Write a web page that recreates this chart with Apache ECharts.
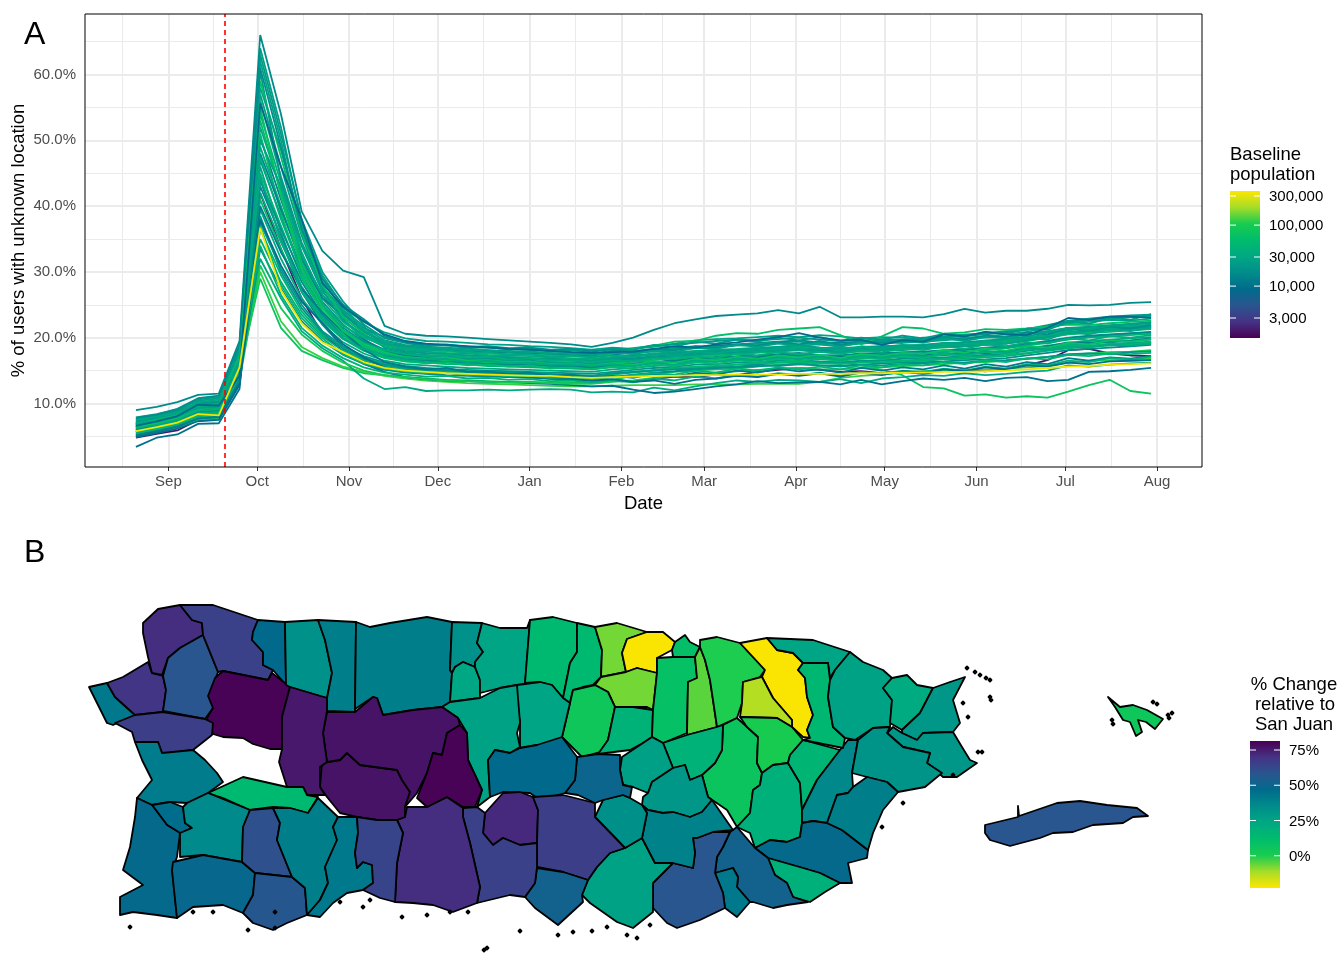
<!DOCTYPE html>
<html><head><meta charset="utf-8">
<style>html,body{margin:0;padding:0;background:#fff}#c{width:1339px;height:954px}</style>
<script src="https://cdn.jsdelivr.net/npm/echarts@6/dist/echarts.min.js"></script>
</head><body><div id="c"></div>
<script>
const weekDays=[-11,-4,3,10,17,24,31,38,45,52,59,66,73,80,87,94,101,108,115,122,129,136,143,150,157,164,171,178,185,192,199,206,213,220,227,234,241,248,255,262,269,276,283,290,297,304,311,318,325,332];
const monthDays=[0,30,61,91,122,153,181,212,242,273,303,334];
const monthLabels=['Sep','Oct','Nov','Dec','Jan','Feb','Mar','Apr','May','Jun','Jul','Aug'];
const minorDays=[-15.5,15,45.5,76,106.5,137.5,167,196.5,227,257.5,288,318.5];
const yMajor=[10,20,30,40,50,60];
const yMinor=[5,15,25,35,45,55,65];
const stormDay=19;
const palette=['#ffe600','#a5dd28','#18cc50','#00bc6c','#00a884','#008d8b','#006b8c','#2a558e','#453385','#480054'];
const popTicks=[300000,100000,30000,10000,3000];
const popLabels=['300,000','100,000','30,000','10,000','3,000'];
const changeTicks=[75,50,25,0];

const L01=[9.0,9.5,10.2,11.3,11.5,19.5,66.0,54.0,39.2,33.2,30.2,29.2,21.8,20.6,20.3,20.2,20.0,19.8,19.6,19.4,19.2,19.0,18.6,19.2,20.0,21.2,22.2,22.8,23.3,23.5,23.7,24.2,23.7,24.7,23.1,23.1,23.2,23.2,23.1,23.6,24.4,23.8,24.1,24.1,24.4,25.0,24.9,25.0,25.3,25.4];
const L02=[6.0,6.6,7.2,8.1,8.4,15.0,29.0,21.5,18.0,16.6,15.4,14.6,14.3,14.0,13.8,13.6,13.5,13.4,13.3,13.3,13.2,13.2,13.1,13.6,14.2,14.5,14.8,15.0,15.2,15.3,15.6,15.9,16.1,16.2,16.2,15.8,15.1,14.3,12.5,12.3,11.2,11.4,10.9,11.1,10.9,11.8,12.8,13.6,11.9,11.5];
const L03=[5.5,6.0,6.8,7.6,8.0,14.5,32.0,26.0,21.0,18.4,16.5,13.8,12.2,12.5,11.9,12.0,12.0,12.1,12.0,12.1,12.2,12.1,11.7,11.8,11.7,12.4,12.0,12.6,13.1,13.5,13.3,13.6,13.5,13.3,13.7,13.1,13.8,14.0,14.3,14.2,14.6,14.3,14.5,14.8,15.0,15.8,15.6,15.9,16.1,16.2];
const L04=[3.4,4.8,5.3,6.9,7.0,12.2,44.0,35.0,27.0,22.0,18.6,16.0,14.8,14.0,13.7,13.5,13.4,13.3,13.2,13.1,13.0,12.8,12.6,12.7,12.1,11.6,11.8,12.2,12.6,12.9,13.4,13.1,13.2,13.3,12.9,13.6,12.9,13.4,13.8,13.6,13.9,13.4,13.9,14.0,13.4,13.6,14.8,14.9,15.1,15.4];
const L05=[5.8,6.4,7.1,8.4,8.2,15.5,36.7,27.2,22.2,19.3,17.8,16.3,15.4,15.0,14.8,14.6,14.5,14.4,14.3,14.2,14.2,14.0,13.9,14.0,14.1,14.2,14.2,14.3,14.3,14.4,14.4,14.4,14.5,14.5,14.5,14.6,14.6,14.7,14.7,14.8,14.8,14.9,15.0,15.2,15.4,15.6,15.7,15.9,16.0,16.1];
const L06=[4.8,5.4,5.9,7.5,7.7,13.0,42.0,33.5,26.0,20.5,18.0,16.5,15.8,15.2,15.0,14.7,14.4,14.3,14.1,14.0,13.8,13.7,13.5,13.6,13.4,13.7,14.1,14.0,14.4,14.3,14.8,15.1,15.4,15.1,14.8,14.9,14.6,14.8,14.5,15.0,15.2,14.9,15.3,15.8,16.6,18.1,18.3,17.6,17.3,17.2];
const L07=[6.6,7.3,8.1,9.8,9.7,14.2,55.6,46.0,38.0,28.3,24.7,22.5,20.5,19.5,19.1,18.9,18.7,18.5,18.3,18.2,18.0,17.8,17.7,17.8,17.9,18.3,18.7,18.5,19.0,19.3,19.7,20.1,20.7,20.0,19.6,19.7,18.9,19.6,19.4,20.5,20.2,20.9,20.5,20.4,21.5,23.0,22.7,23.2,23.2,23.0];
const L08=[6.8,7.4,8.2,9.3,9.6,16.5,59.0,47.5,36.0,28.0,23.2,20.6,18.9,18.4,18.1,17.9,17.8,17.6,17.5,17.4,17.3,17.2,17.0,17.6,18.3,18.8,19.4,19.5,20.3,20.7,20.6,21.2,21.4,21.6,20.4,19.0,20.2,21.6,21.4,20.6,20.8,21.3,21.2,21.4,21.7,22.0,21.9,22.2,22.4,22.6];
const L09=[7.9,8.4,9.1,10.4,10.8,17.8,62.0,50.0,36.0,28.5,24.5,22.4,20.8,19.9,19.5,19.4,19.2,19.0,18.9,18.7,18.6,18.4,18.2,18.5,18.3,18.6,19.1,19.6,19.8,19.9,20.1,20.3,20.1,20.4,20.2,19.9,20.1,20.0,19.8,20.2,20.5,20.6,21.0,21.2,21.7,22.3,22.6,22.8,23.1,23.3];
const L10=[7.4,7.9,8.8,10.1,10.2,17.1,60.5,44.0,34.0,27.0,23.5,21.5,20.1,19.4,19.0,18.8,18.6,18.5,18.3,18.1,18.0,17.8,17.6,18.0,18.4,18.8,19.0,19.2,19.5,19.7,19.6,19.8,20.0,19.7,19.5,19.6,19.8,19.7,20.0,20.1,20.3,20.7,20.9,21.3,21.9,22.6,22.9,23.2,23.4,23.5];
const L11=[7.1,7.7,8.6,9.9,10.3,16.8,52.0,42.5,32.5,26.5,23.0,20.8,19.5,18.8,18.5,18.3,18.1,18.0,17.8,17.7,17.6,17.4,17.2,17.5,17.7,17.9,18.1,18.4,18.6,18.8,18.9,19.2,19.4,19.0,18.8,19.1,19.3,19.2,19.4,19.6,19.9,20.0,20.2,20.6,21.0,21.5,21.7,21.9,22.1,22.3];
const L12=[6.9,7.5,8.4,9.6,9.9,16.2,49.0,40.0,31.0,25.0,21.8,20.0,18.8,18.2,17.9,17.7,17.6,17.4,17.3,17.2,17.0,16.9,16.8,17.1,17.3,17.6,17.8,18.0,18.2,18.3,18.5,18.6,18.7,18.5,18.4,18.6,18.7,18.6,18.9,19.1,19.2,19.4,19.7,20.0,20.5,21.1,21.4,21.6,21.8,22.0];
const L13=[6.5,7.2,8.0,9.2,9.4,15.7,47.0,38.5,30.5,25.5,22.0,19.6,18.2,17.6,17.4,17.2,17.0,16.9,16.8,16.7,16.6,16.5,16.4,16.7,16.9,17.2,17.5,17.7,17.9,18.0,18.2,18.4,18.5,18.2,18.1,18.3,18.5,18.6,18.7,18.9,19.0,19.2,19.5,19.9,20.4,20.9,21.2,21.3,21.6,21.7];
const L14=[6.3,6.9,7.8,9.0,9.1,15.4,45.0,37.0,29.0,24.0,20.8,18.9,17.7,17.2,16.9,16.8,16.6,16.5,16.4,16.3,16.2,16.1,16.0,16.3,16.5,16.8,17.0,17.3,17.5,17.6,17.8,18.0,18.1,17.9,17.8,18.0,18.2,18.2,18.4,18.5,18.7,18.9,19.1,19.5,20.0,20.5,20.7,20.9,21.1,21.3];
const L15=[7.6,8.1,8.9,10.0,10.4,17.5,57.0,46.0,35.5,27.5,23.8,21.0,19.0,18.0,17.7,17.5,17.3,17.2,17.0,16.9,16.8,16.6,16.5,16.8,17.2,17.5,17.7,17.8,18.0,18.2,18.3,18.6,18.9,18.5,18.3,18.4,18.7,18.8,18.9,19.2,19.3,19.6,19.8,20.2,20.8,21.2,21.6,21.8,22.1,22.4];
const L16=[6.1,6.8,7.6,8.8,9.0,15.1,43.0,35.5,28.5,23.5,20.5,18.5,17.3,16.9,16.6,16.4,16.3,16.1,16.0,15.9,15.8,15.7,15.5,15.9,16.1,16.3,16.6,16.9,17.0,17.2,17.3,17.5,17.7,17.4,17.3,17.6,17.7,17.8,17.9,18.1,18.2,18.5,18.7,19.1,19.5,20.0,20.3,20.5,20.7,20.9];
const L17=[6.2,6.7,7.5,8.6,8.9,15.8,41.0,33.5,27.0,22.5,19.8,18.0,16.9,16.4,16.2,16.0,15.9,15.7,15.6,15.5,15.4,15.3,15.2,15.5,15.8,16.1,16.3,16.5,16.7,16.9,17.0,17.2,17.3,17.1,17.0,17.2,17.4,17.5,17.6,17.8,17.9,18.1,18.4,18.8,19.2,19.7,20.0,20.2,20.4,20.6];
const L18=[5.9,6.5,7.4,8.5,8.7,15.2,39.5,32.0,26.0,22.0,19.3,17.6,16.5,16.0,15.8,15.6,15.4,15.3,15.2,15.1,15.0,14.9,14.8,15.2,15.4,15.7,15.9,16.2,16.4,16.5,16.7,16.8,16.9,16.7,16.6,16.8,17.0,17.1,17.2,17.3,17.6,17.8,18.0,18.4,18.8,19.2,19.5,19.7,19.9,20.1];
const L19=[5.6,6.2,7.2,8.3,8.5,14.8,37.5,30.5,25.0,21.0,18.7,17.2,16.2,15.7,15.4,15.2,15.1,15.0,14.9,14.8,14.7,14.6,14.5,14.8,15.1,15.4,15.6,15.9,16.0,16.2,16.3,16.5,16.6,16.4,16.3,16.5,16.6,16.8,16.9,17.0,17.2,17.4,17.6,18.0,18.4,18.9,19.1,19.3,19.5,19.7];
const L20=[5.3,5.9,6.9,8.0,8.2,14.3,35.0,28.5,23.5,20.2,18.0,16.6,15.7,15.2,15.0,14.8,14.7,14.6,14.4,14.3,14.2,14.1,14.0,14.4,14.7,15.0,15.3,15.5,15.7,15.9,16.0,16.2,16.3,16.1,16.0,16.2,16.3,16.4,16.5,16.7,16.8,17.0,17.2,17.6,18.0,18.4,18.6,18.8,19.0,19.2];
const L21=[5.1,5.7,6.6,7.8,7.9,13.8,33.5,27.5,22.5,19.5,17.4,16.0,15.1,14.7,14.5,14.3,14.2,14.1,14.0,13.9,13.8,13.7,13.6,14.0,14.4,14.7,14.9,15.2,15.4,15.5,15.7,15.8,16.0,15.8,15.7,15.9,16.1,16.2,16.3,16.4,16.6,16.7,16.9,17.3,17.7,18.1,18.3,18.5,18.7,18.9];
const L22=[5.0,5.6,6.4,7.5,7.7,13.5,31.0,24.5,20.5,18.0,16.2,15.0,14.3,14.0,13.7,13.5,13.4,13.3,13.2,13.2,13.1,13.0,13.0,13.3,13.5,13.9,14.2,14.5,14.7,14.9,15.1,15.3,15.4,15.2,15.2,15.4,15.5,15.7,15.8,16.0,16.2,16.3,16.5,16.8,17.1,17.4,17.6,17.8,17.9,18.1];
const L23=[5.9,6.4,7.0,8.0,8.2,15.0,30.0,22.5,18.6,16.9,15.6,14.8,14.2,13.8,13.5,13.3,13.1,13.0,12.9,12.8,12.7,12.6,12.6,12.7,12.8,12.8,12.8,12.9,12.9,12.9,13.0,13.0,13.0,13.3,13.9,14.2,14.4,14.7,14.9,15.0,15.1,15.2,15.3,15.5,15.7,16.2,16.5,16.6,16.7,16.8];
const L24=[7.2,7.8,8.5,9.7,10.0,18.5,64.0,52.0,37.5,29.0,24.0,21.5,19.6,18.9,18.6,18.5,18.3,18.1,18.0,17.9,17.7,17.6,17.5,17.9,18.1,18.0,18.4,18.7,18.5,18.9,19.1,19.3,19.0,19.2,19.0,19.3,19.5,19.3,19.6,19.8,20.0,20.2,20.5,20.9,21.5,22.2,22.4,22.7,22.6,22.9];
const L25=[6.7,7.3,8.0,9.4,9.5,16.0,54.0,43.5,33.0,26.0,22.4,20.2,18.6,17.9,17.6,17.5,17.3,17.1,17.1,16.9,16.8,16.7,16.6,17.0,17.4,17.3,17.7,17.9,18.1,18.0,18.3,18.2,18.5,18.3,18.5,18.2,18.6,18.9,18.8,19.0,19.3,19.2,19.5,20.1,20.3,20.8,21.0,21.4,21.5,21.8];
const L26=[6.4,7.0,7.7,9.1,9.3,14.9,50.5,41.0,32.0,26.5,22.8,19.8,17.9,17.3,17.0,16.7,16.7,16.4,16.2,16.1,16.1,15.9,15.8,16.0,16.4,16.2,16.5,16.7,17.1,16.9,17.0,17.4,17.2,17.0,17.1,17.0,17.3,17.2,17.5,17.4,17.8,17.6,18.0,18.3,18.7,19.3,19.2,19.5,19.6,19.9];
const L27=[6.0,6.6,7.3,8.7,8.8,15.5,46.0,36.0,27.5,23.0,20.0,18.2,17.1,16.6,16.3,16.2,16.0,15.8,15.8,15.6,15.5,15.4,15.3,15.7,15.9,16.4,16.2,16.6,16.6,16.8,16.9,17.1,17.1,16.8,16.9,17.0,17.2,17.0,17.3,17.5,17.4,17.7,17.9,18.1,18.6,18.9,18.8,19.0,19.2,19.3];
const L28=[5.7,6.3,7.0,8.2,8.4,14.6,38.5,30.0,24.5,20.8,18.3,16.8,15.9,15.4,15.1,15.0,14.8,14.7,14.6,14.5,14.5,14.3,14.2,14.6,14.8,15.0,15.2,15.3,15.5,15.6,15.9,15.7,16.0,15.8,15.6,15.9,15.8,16.0,16.1,16.3,16.2,16.5,16.6,16.8,17.1,17.5,17.6,17.5,17.8,17.9];
const L29=[6.6,7.1,7.9,9.0,9.2,16.6,51.0,39.0,29.5,24.0,20.5,18.6,17.5,17.1,16.8,16.6,16.5,16.3,16.2,16.1,16.0,15.9,15.8,16.1,16.4,16.6,16.9,17.1,17.3,17.5,17.7,17.9,18.1,17.8,17.7,17.9,18.1,18.3,18.4,18.6,18.8,19.0,19.3,19.6,20.0,20.6,20.8,21.1,21.3,21.5];
const L30=[7.0,7.6,8.3,9.5,9.8,17.0,56.0,44.5,34.5,27.8,24.2,21.8,18.4,17.8,17.2,17.0,16.8,16.7,16.5,16.4,16.3,16.2,16.1,16.4,16.6,16.9,17.2,17.4,17.6,17.7,17.9,18.0,18.2,17.9,17.8,18.1,18.2,18.1,18.4,18.6,18.7,18.9,19.1,19.6,20.1,20.7,21.0,21.2,21.4,21.6];
const L31=[6.8,7.4,8.1,9.3,9.6,15.9,48.0,39.5,31.5,26.0,23.5,21.0,19.2,18.6,18.3,18.1,17.9,17.8,17.7,17.6,17.5,17.3,17.2,17.4,17.8,18.1,18.4,18.6,18.8,19.0,19.2,19.4,19.6,19.3,19.2,19.4,19.6,19.7,19.8,20.1,20.3,20.5,20.8,21.2,21.8,22.4,22.8,23.0,23.2,23.4];
const L32=[5.4,6.0,6.8,8.0,8.3,14.4,36.5,29.5,24.0,20.5,18.5,17.0,16.0,15.5,15.3,15.1,14.9,14.8,14.7,14.6,14.4,14.3,14.2,14.5,14.8,15.1,15.4,15.6,15.7,15.9,16.1,16.2,16.4,16.2,16.1,16.3,16.5,16.5,16.7,16.8,17.0,17.2,17.4,17.7,18.1,18.6,18.8,19.0,19.2,19.4];
const L33=[7.3,7.8,8.7,9.9,10.1,16.4,44.0,36.5,29.5,24.5,21.5,19.4,18.0,17.4,17.1,16.9,16.8,16.7,16.5,16.5,16.3,16.2,16.1,16.5,16.7,17.0,17.3,17.5,17.7,17.8,18.0,18.2,18.3,18.1,18.0,18.2,18.4,18.4,18.6,18.8,18.9,19.1,19.4,19.8,20.2,20.8,21.0,21.4,21.6,21.7];
const L34=[6.4,7.0,7.9,9.1,9.4,16.1,42.0,34.5,27.8,23.2,20.3,18.4,17.2,16.7,16.5,16.3,16.1,16.0,15.9,15.8,15.7,15.6,15.5,15.8,16.0,16.2,16.5,16.7,16.9,17.0,17.1,17.3,17.5,17.2,17.1,17.3,17.5,17.6,17.7,17.9,18.1,18.3,18.5,18.9,19.4,19.8,20.1,20.4,20.6,20.8];
const L35=[7.7,8.2,9.0,10.6,11.0,18.0,63.0,51.0,38.0,30.0,25.5,22.0,19.9,19.2,18.7,18.9,18.4,18.6,18.2,18.4,17.9,18.1,17.8,18.4,18.2,18.9,18.6,19.4,19.1,19.7,19.4,20.0,19.6,20.1,19.5,20.0,19.7,20.3,19.9,20.6,20.2,20.9,20.6,21.4,21.2,22.4,22.1,23.0,22.7,23.6];
const L36=[7.5,8.0,8.6,10.2,10.6,17.4,58.0,48.5,37.0,29.5,24.8,21.2,19.3,18.3,18.0,18.2,17.6,17.8,17.4,17.5,17.1,17.3,17.0,17.3,17.0,17.6,17.3,17.9,17.6,18.2,17.9,18.4,18.1,18.5,18.0,18.7,18.3,18.8,18.5,19.2,18.8,19.5,19.1,20.0,19.7,20.9,20.5,21.3,21.0,21.5];
const L37=[6.9,7.5,8.2,9.5,9.9,17.2,53.0,42.0,31.5,25.2,21.0,18.8,17.0,16.4,16.1,16.3,15.8,15.9,15.6,15.8,15.3,15.5,15.2,15.6,15.3,16.0,15.7,16.3,16.0,16.6,16.2,16.8,16.4,16.9,16.4,17.0,16.7,17.2,16.9,17.5,17.2,17.9,17.5,18.3,18.1,18.9,18.6,19.1,18.9,19.3];
const L38=[5.2,5.8,6.5,7.7,8.0,13.2,40.0,33.0,27.5,23.8,20.9,18.2,16.3,15.6,15.2,15.4,14.8,14.9,14.5,14.7,14.2,14.4,14.0,14.2,13.9,14.5,14.1,14.7,14.4,15.0,14.7,15.3,14.9,15.2,14.7,15.4,15.0,15.5,15.2,15.8,15.3,16.0,15.6,16.3,16.0,16.9,16.5,17.0,16.8,17.2];
const L39=[5.6,6.1,6.9,8.1,8.4,14.9,34.0,26.5,21.5,18.8,16.9,15.5,14.7,14.4,14.1,14.2,13.8,13.9,13.6,13.7,13.4,13.5,13.2,13.5,13.2,13.8,13.5,14.1,13.8,14.4,14.1,14.6,14.3,14.7,14.2,14.8,14.5,15.0,14.8,15.3,15.0,15.6,15.3,16.0,15.8,16.5,16.3,16.9,16.7,17.1];
const L40=[6.3,6.8,7.6,8.9,9.2,15.6,47.5,38.0,30.0,25.0,21.2,19.2,18.1,17.5,17.2,17.4,17.0,17.1,16.7,16.9,16.5,16.6,16.3,16.6,16.4,16.9,16.7,17.2,16.9,17.6,17.3,17.8,17.5,17.9,17.5,18.1,17.8,18.3,18.1,18.7,18.3,19.0,18.7,19.3,19.1,19.9,19.6,20.2,20.0,20.4];
const L41=[7.8,8.3,9.2,10.8,11.2,18.9,61.0,49.0,36.5,29.0,25.0,22.8,20.3,19.3,18.9,19.0,18.6,18.7,18.4,18.5,18.2,18.3,18.0,18.2,17.9,18.3,18.1,18.7,18.4,19.0,18.8,19.3,19.0,19.5,18.9,19.5,19.2,19.6,19.4,20.0,19.7,20.3,20.0,20.8,20.5,21.5,21.1,21.7,21.4,21.9];
const L42=[6.5,7.0,7.8,9.2,9.5,16.9,55.0,41.5,30.5,24.5,21.0,19.0,17.8,17.0,16.8,17.0,16.5,16.6,16.3,16.4,16.0,16.1,15.8,16.1,15.9,16.4,16.2,16.8,16.5,17.1,16.8,17.3,17.0,17.4,16.9,17.5,17.2,17.7,17.5,18.1,17.7,18.4,18.0,18.7,18.5,19.2,19.0,19.6,19.4,19.8];
const L43=[4.9,5.5,6.2,7.3,7.5,12.8,38.0,31.0,25.5,22.2,19.0,17.0,15.5,14.9,14.6,14.7,14.3,14.4,14.0,14.1,13.8,13.8,13.5,13.7,13.3,13.5,13.0,13.6,13.8,14.2,14.0,14.5,14.2,14.6,14.1,14.7,14.3,14.9,14.6,15.2,14.9,15.5,15.2,15.8,15.6,16.2,16.0,16.4,16.5,16.6];
const L44=[7.0,7.4,8.0,9.4,9.7,16.7,44.5,35.0,27.0,22.8,19.8,18.3,17.4,16.9,16.7,16.8,16.3,16.5,16.1,16.2,15.9,16.0,15.7,16.0,15.6,16.2,15.9,16.5,16.3,16.8,16.5,17.0,16.7,17.1,16.6,17.2,16.9,17.4,17.1,17.7,17.3,18.0,17.7,18.4,18.1,18.7,18.5,19.0,18.8,19.1];
const L45=[6.8,7.2,8.0,9.3,9.5,16.3,50.0,43.0,34.0,27.2,22.6,20.4,19.0,18.6,18.3,18.4,18.0,18.1,17.8,17.9,17.6,17.6,17.4,17.7,17.5,18.0,17.8,18.5,18.3,18.9,18.6,19.1,18.8,19.0,18.6,19.3,19.0,19.5,19.2,19.9,19.5,20.1,19.9,20.5,20.9,21.5,21.2,21.8,22.0,22.2];
const L46=[5.7,6.2,7.0,8.2,8.6,15.1,37.0,28.0,23.0,19.9,17.5,16.1,15.3,14.9,14.6,14.8,14.3,14.4,14.1,14.2,13.9,14.0,13.7,14.0,14.3,14.6,14.4,15.0,14.7,15.3,15.0,15.5,15.2,15.6,15.2,15.8,15.5,16.0,15.8,16.3,16.0,16.6,16.3,16.9,16.7,17.4,17.2,17.6,17.5,17.7];
const allLines=[L06,L02,L23,L03,L04,L22,L21,L20,L32,L28,L19,L18,L17,L27,L34,L16,L14,L33,L13,L26,L29,L25,L30,L12,L11,L31,L15,L24,L09,L10,L08,L35,L36,L37,L38,L39,L40,L41,L42,L43,L44,L45,L46,L07,L01,L05];
const linePops=[1800,75000,120000,32000,10000,95000,17000,41000,48000,20000,21000,33000,52000,30000,34000,15000,45000,18000,19000,13000,60000,38000,25000,35000,28000,14000,24000,27000,26000,22000,62000,23000,29000,55000,12000,42000,36000,16500,70000,9500,31000,26500,44000,8500,16000,330000];

const regionNames=['Rincon','Aguada','Aguadilla','Moca','Isabela','Quebradillas','SanSebastian','Camuy','Hatillo','Arecibo','Barceloneta','Florida','Manati','VegaBaja','VegaAlta','Dorado','ToaBaja','ToaAlta','Corozal','Naranjito','Bayamon','Catano','Guaynabo','SanJuan','Carolina','TrujilloAlto','Caguas','Gurabo','AguasBuenas','Cidra','Cayey','SanLorenzo','Juncos','LasPiedras','Yabucoa','Maunabo','Patillas','Arroyo','Guayama','Salinas','Aibonito','Barranquitas','Orocovis','Morovis','Ciales','Jayuya2','Villalba','Coamo','SantaIsabel','JuanaDiaz','Ponce','Adjuntas','Utuado','Jayuya','LasMarias','Maricao','Anasco','Mayaguez','Hormigueros','CaboRojo','SanGerman','Lajas','SabanaGrande','Guanica','Yauco','Guayanilla','Penuelas','Loiza','Canovanas','RioGrande','Luquillo','Fajardo','Ceiba','Naguabo','Humacao','Vieques','Culebra'];
const regionValues=[42,69,71,58,65,47,81,33,40,40,33,24,25,14,14,-7,-22,-7,5,18,9,10,-5,0,-22,-13,6,1,18,27,31,19,16,37,48,19,52,42,58,26,39,34,50,25,26,47,72,66,52,65,71,77,77,81,76,14,66,41,46,48,36,49,60,57,40,42,64,25,15,26,22,31,31,32,40,58,5];
const regionRings=[
[89,687,107,683,115,697,135,715,113,725,107,723,98,705],
[107,683,123,677,148,662,152,673,163,676,166,690,163,712,135,715,115,697],
[143,623,158,609,180,605,192,620,202,623,203,635,180,648,168,658,162,675,152,673,148,657,143,633],
[203,635,218,672,210,693,213,708,205,719,163,711,166,690,163,676,168,658,180,648],
[180,605,213,605,237,613,258,620,253,632,252,640,263,652,263,665,273,670,268,680,243,675,223,671,218,672,203,635,202,623,192,620],
[258,620,285,622,286,685,273,670,263,665,263,652,252,640,253,632],
[223,671,243,675,268,680,272,673,290,687,282,717,282,749,270,749,253,744,243,738,223,737,213,734,207,718,213,708,208,696,215,678],
[285,622,318,620,325,640,332,673,327,698,290,687,286,685],
[318,620,356,622,355,712,327,711,327,698,332,673,325,640],
[356,622,370,627,390,623,427,617,452,622,450,670,452,673,450,702,442,707,413,710,383,715,377,698,373,697,355,709],
[452,622,482,623,477,643,483,652,475,662,475,667,463,662,455,667,452,673,450,670],
[452,673,455,667,463,662,475,667,480,680,480,698,450,702],
[482,623,500,628,527,628,530,620,525,684,517,685,500,688,480,693,480,680,475,667,475,662,483,652,477,643],
[530,620,553,617,577,623,577,652,570,663,563,698,552,685,540,682,525,683],
[577,623,595,627,602,650,601,677,593,685,583,687,573,690,570,703,563,698,570,663,577,652],
[595,627,617,623,647,632,627,639,622,653,626,672,601,677,602,650],
[627,639,647,632,663,632,675,642,672,650,657,658,657,673,637,668,626,672,622,653],
[601,677,626,672,637,668,657,673,653,710,647,707,633,707,615,707,608,692,595,685],
[582,688,595,685,608,692,615,707,608,740,600,752,582,757,562,737,570,703,573,690],
[615,707,633,707,653,710,652,737,643,743,630,750,598,754,608,740],
[657,658,673,657,695,657,697,678,688,682,687,733,663,743,652,737,653,710,657,673],
[675,642,685,635,690,642,700,647,695,657,673,657,672,650],
[700,647,705,660,710,680,713,700,717,727,687,735,688,682,697,678,695,657],
[700,640,717,637,740,643,765,670,760,677,743,682,742,703,737,718,717,727,713,700,710,680,705,660,700,647],
[740,643,767,638,777,650,793,653,803,663,798,670,805,678,807,697,813,715,807,730,810,738,803,737,792,727,792,720,773,698,762,677,765,670],
[743,682,762,677,773,698,792,720,792,727,777,718,740,717,742,703],
[723,725,737,718,747,727,758,737,757,763,762,773,760,785,753,790,750,813,737,827,727,810,708,797,702,775,715,763,722,750],
[740,717,777,718,792,727,803,740,790,755,788,763,773,765,762,773,757,763,758,737,747,727],
[663,743,687,735,717,727,723,725,722,750,715,763,702,775,690,780,685,765,673,768,667,753],
[622,757,643,743,652,737,663,743,667,753,673,768,652,782,648,793,633,787,623,785,620,770],
[652,782,673,768,685,765,690,780,702,775,708,797,712,800,702,812,690,817,673,812,663,813,648,810,642,805,643,797,648,793],
[762,773,773,765,788,763,800,783,802,810,802,823,800,837,787,842,770,840,755,848,750,833,737,827,750,813,753,790,760,785],
[803,740,840,750,817,780,802,810,800,783,788,763,790,755],
[840,750,848,740,858,740,852,773,853,787,848,793,837,795,827,823,813,821,802,823,802,810,817,780],
[802,823,813,821,827,823,842,830,868,850,867,858,848,863,852,883,840,883,820,873,803,868,768,858,755,848,770,840,787,842,800,837],
[768,858,803,868,820,873,840,883,825,892,810,902,793,897,787,883,775,875],
[730,832,737,827,755,848,768,858,775,875,787,883,793,897,808,902,787,905,773,908,753,902,750,902,737,887,738,877,733,868,715,873,717,857,723,847],
[715,873,733,868,738,877,737,887,750,902,737,917,725,908,723,893],
[697,838,713,832,730,832,723,847,717,857,715,873,723,893,725,908,700,920,677,928,667,923,653,908,653,883,673,863,693,868,695,853,693,838],
[625,848,642,838,655,863,673,863,653,883,653,912,633,928,617,922,590,903,582,895,588,880,597,867,610,853],
[642,805,648,810,663,813,673,812,690,817,702,812,712,800,733,830,713,832,697,838,693,838,695,853,693,868,673,863,655,863,642,838,647,813],
[595,817,603,800,623,795,630,798,642,805,647,813,642,838,625,848],
[577,757,598,754,620,755,620,770,623,785,632,787,630,798,623,795,603,800,595,803,578,795,565,793,575,780],
[517,685,525,684,540,682,552,685,563,698,570,703,562,737,557,745,537,745,520,748,520,720,517,710],
[442,707,450,702,480,698,500,688,517,685,520,723,517,733,520,747,510,753,495,750,488,760,490,797,477,807,482,790,468,760,467,733,458,718],
[488,760,495,750,510,753,520,748,537,745,562,737,577,757,575,780,565,793,540,800,530,793,503,792,490,797],
[485,813,503,793,520,792,533,797,538,810,537,843,520,845,503,838,493,845,483,833],
[533,797,563,795,595,803,595,817,625,848,610,853,597,867,588,880,563,872,537,867,537,843,538,810],
[537,868,563,872,588,880,582,895,583,902,558,925,535,908,525,897,535,883],
[463,808,477,807,485,813,483,833,493,845,503,838,520,845,537,843,537,867,535,883,525,897,510,895,477,903,480,887,470,843,463,817],
[407,807,427,807,447,797,463,808,463,817,470,843,480,887,477,903,453,912,433,905,413,903,395,902,397,863,403,833,397,820,405,817],
[322,763,340,760,347,753,360,765,397,770,402,780,410,792,405,807,405,817,397,820,377,820,357,817,340,813,327,797,320,787],
[327,712,355,712,373,697,377,698,383,715,413,710,442,707,458,718,460,725,447,733,442,755,433,753,427,773,417,793,405,807,410,792,402,780,397,770,360,765,347,753,340,760,327,762,323,733],
[460,725,467,733,468,760,482,790,475,807,463,807,447,797,427,807,417,798,427,773,433,753,442,755,447,733],
[290,687,327,698,327,711,323,733,327,762,320,767,320,787,325,795,307,795,303,787,287,787,279,762,282,749,282,717],
[208,793,243,777,287,787,303,787,307,795,318,797,308,813,290,808,273,807,250,810,223,798],
[115,723,135,715,163,712,205,719,213,723,212,735,193,750,170,753,162,753,158,742,135,742,132,732],
[135,742,158,742,162,753,193,750,205,760,217,773,223,782,208,793,187,803,170,802,152,805,137,798,152,780,142,760],
[152,805,170,802,183,807,185,823,192,828,180,833,167,825],
[137,798,152,805,167,825,180,833,177,857,172,870,177,918,157,915,133,912,120,915,120,897,143,885,123,870,130,847,135,817],
[187,803,208,793,250,810,243,827,242,862,203,855,180,857,180,833,192,828,185,823,183,807],
[173,862,203,855,242,862,255,873,253,895,243,913,223,905,193,907,177,918,172,870],
[250,810,273,808,280,823,277,840,292,877,255,873,242,862,243,827],
[255,873,292,877,305,888,307,915,287,923,273,930,253,923,243,913,253,895],
[273,808,290,808,308,813,318,798,338,817,333,827,337,840,325,867,328,883,320,900,307,915,305,888,292,877,277,840,280,823],
[338,817,357,817,358,833,355,853,357,868,363,862,372,865,373,883,363,890,347,893,333,903,320,917,307,915,320,900,328,883,325,867,337,840,333,827],
[357,817,377,820,397,820,403,833,397,863,395,902,380,898,363,890,373,883,372,865,363,862,357,868,355,853,358,833],
[767,638,813,640,850,652,835,670,830,678,828,663,803,663,793,653,777,650],
[798,670,803,663,828,663,830,680,828,697,833,727,845,738,843,748,803,740,810,738,807,730,813,715,807,697,805,678],
[850,652,863,662,883,670,892,678,883,688,892,700,890,727,873,728,855,740,845,738,833,727,828,697,830,680,835,670],
[883,688,892,678,907,675,917,685,933,688,920,713,902,730,890,723,892,700],
[933,688,950,682,965,677,953,700,960,723,953,732,923,733,917,740,902,733,902,730,920,713],
[887,733,893,727,902,733,917,740,923,733,953,732,962,747,970,760,977,763,957,777,943,777,927,763,930,753,903,747],
[858,740,873,728,890,727,887,733,903,747,930,753,927,763,942,773,925,787,898,792,887,782,867,777,852,773],
[853,787,867,777,887,782,898,792,883,810,873,833,868,850,842,830,827,823,837,795,848,793],
[985,825,1018,817,1018,806,1019,816,1057,803,1080,801,1107,805,1137,808,1148,816,1133,817,1123,823,1093,825,1073,832,1053,833,1040,838,1010,846,990,840,985,833],
[1108,697,1120,707,1133,705,1147,710,1163,719,1155,729,1146,722,1138,720,1142,732,1136,736,1130,722,1123,720,1115,707]
];
const isletCenters=[130,927,193,912,213,912,248,930,275,912,275,928,340,902,363,907,370,900,402,917,427,915,450,912,468,912,520,931,558,935,573,932,592,931,607,927,627,935,637,938,650,925,487,948,484,950,903,803,882,827,967,668,975,672,980,675,986,678,990,680,990,697,991,700,963,703,968,717,982,752,978,752,953,775,1112,720,1113,724,1153,702,1157,704,1168,715,1172,713,1169,718];

const axisFont='Liberation Sans';
const popTop=363000, popBottom=1400;
function popColor(p){return echarts.color.lerp((Math.log10(popTop)-Math.log10(p))/(Math.log10(popTop)-Math.log10(popBottom)),palette);}
function pairs(f){const r=[];for(let i=0;i<f.length;i+=2)r.push([f[i],f[i+1]]);r.push([f[0],f[1]]);return r;}
const features=regionNames.map((n,i)=>({type:'Feature',properties:{name:n},geometry:{type:'Polygon',coordinates:[pairs(regionRings[i])]}}));
const isletPolys=[];
for(let i=0;i<isletCenters.length;i+=2){const x=isletCenters[i],y=isletCenters[i+1];isletPolys.push([[[x-1.5,y],[x,y-1.5],[x+1.5,y],[x,y+1.5],[x-1.5,y]]]);}
features.push({type:'Feature',properties:{name:'Islets'},geometry:{type:'MultiPolygon',coordinates:isletPolys}});
echarts.registerMap('pr',{type:'FeatureCollection',features});
const mapData=regionNames.map((n,i)=>({name:n,value:regionValues[i]}));
mapData.push({name:'Islets',value:999});

const ml=(axis,v,w)=>({[axis]:v,lineStyle:{color:'#ebebeb',width:w,type:'solid'}});
const gridSeries={type:'line',data:[],z:1,silent:true,markLine:{z:1,silent:true,animation:false,symbol:'none',label:{show:false},data:[
  ...minorDays.map(v=>ml('xAxis',v,1)),...yMinor.map(v=>ml('yAxis',v,1)),
  ...monthDays.map(v=>ml('xAxis',v,2)),...yMajor.map(v=>ml('yAxis',v,2))]}};
const lineSeries=allLines.map((vals,k)=>({type:'line',name:'m'+k,z:2,silent:true,symbol:'none',animation:false,
  lineStyle:{width:1.8,color:popColor(linePops[k])},data:weekDays.map((d,i)=>[d,vals[i]])}));
const stormSeries={type:'line',data:[],z:5,silent:true,markLine:{z:8,silent:true,animation:false,symbol:'none',label:{show:false},
  lineStyle:{color:'#ff0000',type:[5,4],width:1.6},data:[{xAxis:stormDay}]}};

function barGraphic(x,y0,y1,colors,ticks,yOf,labels,lx){
  const out=[{type:'rect',shape:{x,y:y0,width:30,height:y1-y0},style:{fill:new echarts.graphic.LinearGradient(0,0,0,1,colors.map((c,i)=>({offset:i/(colors.length-1),color:c})))}}];
  ticks.forEach((t,i)=>{const y=yOf(t);
    out.push({type:'line',shape:{x1:x,y1:y,x2:x+6,y2:y},style:{stroke:'#fff',lineWidth:1}});
    out.push({type:'line',shape:{x1:x+24,y1:y,x2:x+30,y2:y},style:{stroke:'#fff',lineWidth:1}});
    out.push({type:'text',x:lx,y:y+1,style:{text:labels[i],font:'15px '+axisFont,fill:'#000',textVerticalAlign:'middle'}});});
  return out;
}
const txt=(t,x,y,size,align)=>({type:'text',x,y,style:{text:t,font:size+'px '+axisFont,fill:'#000',textAlign:align||'left',textVerticalAlign:'middle'}});
const graphics=[
  txt('A',24,35,32),txt('B',24,553,32),
  txt('Baseline',1230,155,18.5),txt('population',1230,175,18.5),
  txt('% Change',1294,685,18.5,'center'),txt('relative to',1295,705,18.5,'center'),txt('San Juan',1294,725,18.5,'center'),
  ...barGraphic(1230,191,338,palette,popTicks,p=>196+(Math.log10(300000)-Math.log10(p))*61,popLabels,1269),
  ...barGraphic(1250,741,888,[...palette].reverse(),changeTicks,c=>750+(75-c)*1.41,changeTicks.map(c=>c+'%'),1289)
];

const option={animation:false,backgroundColor:'#fff',textStyle:{fontFamily:axisFont},
  grid:{left:85,top:14,width:1117,height:453,show:true,borderColor:'#000',borderWidth:1,backgroundColor:'transparent',z:10,outerBoundsMode:'none'},
  xAxis:{type:'value',min:-28.2,max:349.2,splitLine:{show:false},axisLine:{show:false},
    name:'Date',nameLocation:'middle',nameGap:27,nameMoveOverlap:false,nameTextStyle:{fontSize:18.5,color:'#000',fontFamily:axisFont},
    axisTick:{show:true,length:4,lineStyle:{color:'#333'},customValues:monthDays},
    axisLabel:{color:'#4d4d4d',fontSize:15,margin:7,fontFamily:axisFont,customValues:monthDays,formatter:v=>monthLabels[monthDays.indexOf(v)]}},
  yAxis:{type:'value',min:0.35,max:69.2,splitLine:{show:false},axisLine:{show:false},
    name:'% of users with unknown location',nameLocation:'middle',nameGap:57,nameMoveOverlap:false,nameTextStyle:{fontSize:18.5,color:'#000',fontFamily:axisFont},
    axisTick:{show:true,length:4,lineStyle:{color:'#333'},customValues:yMajor},
    axisLabel:{color:'#4d4d4d',fontSize:15,margin:9,padding:[2,0,0,0],fontFamily:axisFont,customValues:yMajor,formatter:v=>v.toFixed(1)+'%'}},
  visualMap:{show:false,type:'continuous',seriesIndex:allLines.length+2,min:-22.7,max:81.4,inRange:{color:palette},outOfRange:{color:'#000'}},
  series:[gridSeries,...lineSeries,stormSeries,
    {type:'map',map:'pr',roam:false,silent:true,left:0,top:0,width:1339,height:954,aspectScale:1,
     boundingCoords:[[0,0],[1339,954]],projection:{project:p=>p,unproject:p=>p},
     label:{show:false},emphasis:{disabled:true},select:{disabled:true},
     itemStyle:{areaColor:'#fff',borderColor:'#000',borderWidth:1.8,borderJoin:'round'},data:mapData}],
  graphic:{elements:graphics}
};
echarts.init(document.getElementById('c'),null,{renderer:'canvas'}).setOption(option);
</script></body></html>
